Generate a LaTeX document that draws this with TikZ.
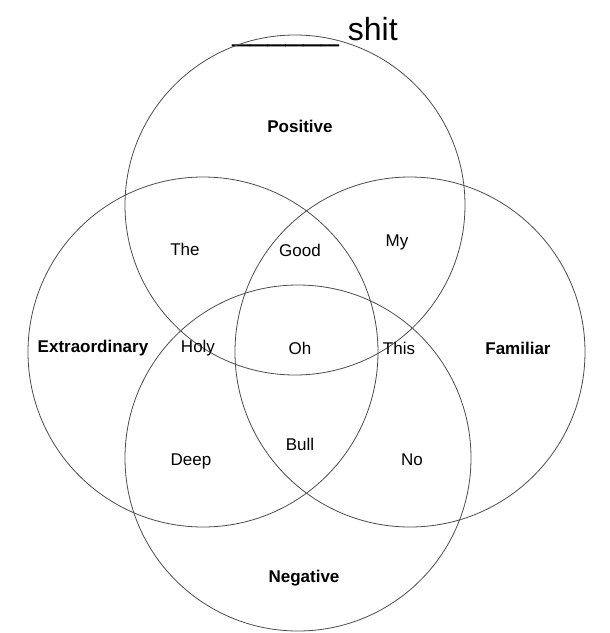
\documentclass[tikz,border=0pt]{standalone}
\usepackage{fontspec}
\setmainfont{Liberation Sans}
\begin{document}
\begin{tikzpicture}[x=1pt,y=-1pt,ring/.style={draw=black!70,line width=0.8pt},word/.style={font=\fontsize{17}{20}\selectfont},cat/.style={font=\bfseries\fontsize{17}{20}\selectfont}]
        \useasboundingbox (0,0) rectangle (610,633);
        \node[font=\fontsize{32}{38}\selectfont,anchor=base] (title) at (315,40) {\_\_\_\_\_\_ shit};

        % the four circles
        \draw[ring] (295,205) circle (170);
        \draw[ring] (203,352) circle (175);
        \draw[ring] (410,352) circle (175);
        \draw[ring] (298,458) circle (173);

        \node[cat] (pos) at (300,126) {Positive};
        \node[cat] (ext) at (93,348) {Extraordinary};
        \node[cat] (fam) at (518,348) {Familiar};
        \node[cat] (neg) at (304,578) {Negative};

        \node[word] (the) at (185,249) {The};
        \node[word] (good) at (300,250) {Good};
        \node[word] (my) at (397,242) {My};
        \node[word] (holy) at (198,348) {Holy};
        \node[word] (oh) at (300,348) {Oh};
        \node[word] (this) at (399,348) {This};
        \node[word] (deep) at (191,461) {Deep};
        \node[word] (bull) at (300,444) {Bull};
        \node[word] (no) at (412,460) {No};
    \end{tikzpicture}
\end{document}
